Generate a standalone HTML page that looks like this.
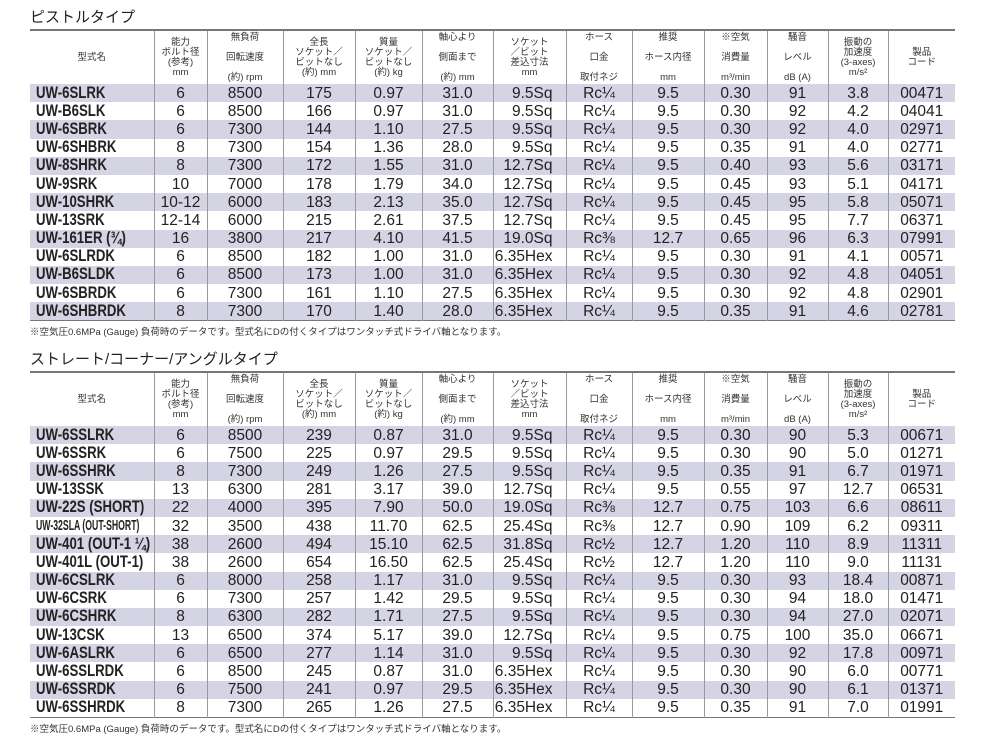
<!DOCTYPE html>
<html><head><meta charset="utf-8">
<style>
body{margin:0;width:989px;height:736px;background:#fff;position:relative;overflow:hidden;font-family:"Liberation Sans","Noto Sans CJK JP",sans-serif;color:#222}
.t{position:absolute;left:30px;font-size:15px;color:#222}
.n{position:absolute;left:30px;font-size:9.5px;color:#333;white-space:nowrap}
table{position:absolute;left:30px;border-collapse:collapse;table-layout:fixed;width:925px}
td,th{padding:0;border-left:1px solid #999;text-align:center;white-space:nowrap}
td:first-child,th:first-child{border-left:none}
th{font-weight:normal;font-size:9.5px;line-height:10px;color:#333;height:53px;vertical-align:middle}
thead tr{border-top:2px solid #777}
tbody tr{height:18.2px}
tbody td{height:18.2px;font-size:15.5px;line-height:17px;overflow:hidden;vertical-align:middle}
tbody td:first-child{text-align:left;padding-left:6px;font-weight:bold}
tbody td:first-child span{display:inline-block;transform:scaleX(0.8);transform-origin:left center;font-size:16.5px;line-height:17px;vertical-align:top}
tbody td:nth-child(7){text-align:right;padding-right:13px}
tbody tr:nth-child(odd){background:#d5d4e4}
tbody tr:last-child{border-bottom:1px solid #777}
</style></head><body>
<div class="t" style="top:6px">ピストルタイプ</div>
<table style="top:29px">
<colgroup><col style="width:124px"><col style="width:53px"><col style="width:76px"><col style="width:72px"><col style="width:67px"><col style="width:71px"><col style="width:73px"><col style="width:66px"><col style="width:72px"><col style="width:63px"><col style="width:61px"><col style="width:60px"><col style="width:67px"></colgroup>
<thead><tr><th>型式名</th><th>能力<br>ボルト径<br>(参考)<br>mm</th><th>無負荷<br><br>回転速度<br><br>(約) rpm</th><th>全長<br>ソケット／<br>ビットなし<br>(約) mm</th><th>質量<br>ソケット／<br>ビットなし<br>(約) kg</th><th>軸心より<br><br>側面まで<br><br>(約) mm</th><th>ソケット<br>／ビット<br>差込寸法<br>mm</th><th>ホース<br><br>口金<br><br>取付ネジ</th><th>推奨<br><br>ホース内径<br><br>mm</th><th>※空気<br><br>消費量<br><br>m³/min</th><th>騒音<br><br>レベル<br><br>dB (A)</th><th>振動の<br>加速度<br>(3-axes)<br>m/s²</th><th>製品<br>コード</th></tr></thead>
<tbody>
<tr><td><span>UW-6SLRK</span></td><td>6</td><td>8500</td><td>175</td><td>0.97</td><td>31.0</td><td>9.5Sq</td><td>Rc¼</td><td>9.5</td><td>0.30</td><td>91</td><td>3.8</td><td>00471</td></tr>
<tr><td><span>UW-B6SLK</span></td><td>6</td><td>8500</td><td>166</td><td>0.97</td><td>31.0</td><td>9.5Sq</td><td>Rc¼</td><td>9.5</td><td>0.30</td><td>92</td><td>4.2</td><td>04041</td></tr>
<tr><td><span>UW-6SBRK</span></td><td>6</td><td>7300</td><td>144</td><td>1.10</td><td>27.5</td><td>9.5Sq</td><td>Rc¼</td><td>9.5</td><td>0.30</td><td>92</td><td>4.0</td><td>02971</td></tr>
<tr><td><span>UW-6SHBRK</span></td><td>8</td><td>7300</td><td>154</td><td>1.36</td><td>28.0</td><td>9.5Sq</td><td>Rc¼</td><td>9.5</td><td>0.35</td><td>91</td><td>4.0</td><td>02771</td></tr>
<tr><td><span>UW-8SHRK</span></td><td>8</td><td>7300</td><td>172</td><td>1.55</td><td>31.0</td><td>12.7Sq</td><td>Rc¼</td><td>9.5</td><td>0.40</td><td>93</td><td>5.6</td><td>03171</td></tr>
<tr><td><span>UW-9SRK</span></td><td>10</td><td>7000</td><td>178</td><td>1.79</td><td>34.0</td><td>12.7Sq</td><td>Rc¼</td><td>9.5</td><td>0.45</td><td>93</td><td>5.1</td><td>04171</td></tr>
<tr><td><span>UW-10SHRK</span></td><td>10-12</td><td>6000</td><td>183</td><td>2.13</td><td>35.0</td><td>12.7Sq</td><td>Rc¼</td><td>9.5</td><td>0.45</td><td>95</td><td>5.8</td><td>05071</td></tr>
<tr><td><span>UW-13SRK</span></td><td>12-14</td><td>6000</td><td>215</td><td>2.61</td><td>37.5</td><td>12.7Sq</td><td>Rc¼</td><td>9.5</td><td>0.45</td><td>95</td><td>7.7</td><td>06371</td></tr>
<tr><td><span>UW-161ER (¾)</span></td><td>16</td><td>3800</td><td>217</td><td>4.10</td><td>41.5</td><td>19.0Sq</td><td>Rc⅜</td><td>12.7</td><td>0.65</td><td>96</td><td>6.3</td><td>07991</td></tr>
<tr><td><span>UW-6SLRDK</span></td><td>6</td><td>8500</td><td>182</td><td>1.00</td><td>31.0</td><td>6.35Hex</td><td>Rc¼</td><td>9.5</td><td>0.30</td><td>91</td><td>4.1</td><td>00571</td></tr>
<tr><td><span>UW-B6SLDK</span></td><td>6</td><td>8500</td><td>173</td><td>1.00</td><td>31.0</td><td>6.35Hex</td><td>Rc¼</td><td>9.5</td><td>0.30</td><td>92</td><td>4.8</td><td>04051</td></tr>
<tr><td><span>UW-6SBRDK</span></td><td>6</td><td>7300</td><td>161</td><td>1.10</td><td>27.5</td><td>6.35Hex</td><td>Rc¼</td><td>9.5</td><td>0.30</td><td>92</td><td>4.8</td><td>02901</td></tr>
<tr><td><span>UW-6SHBRDK</span></td><td>8</td><td>7300</td><td>170</td><td>1.40</td><td>28.0</td><td>6.35Hex</td><td>Rc¼</td><td>9.5</td><td>0.35</td><td>91</td><td>4.6</td><td>02781</td></tr>
</tbody></table>
<div class="n" style="top:324px">※空気圧0.6MPa (Gauge) 負荷時のデータです。型式名にDの付くタイプはワンタッチ式ドライバ軸となります。</div>
<div class="t" style="top:348px">ストレート/コーナー/アングルタイプ</div>
<table style="top:371px">
<colgroup><col style="width:124px"><col style="width:53px"><col style="width:76px"><col style="width:72px"><col style="width:67px"><col style="width:71px"><col style="width:73px"><col style="width:66px"><col style="width:72px"><col style="width:63px"><col style="width:61px"><col style="width:60px"><col style="width:67px"></colgroup>
<thead><tr><th>型式名</th><th>能力<br>ボルト径<br>(参考)<br>mm</th><th>無負荷<br><br>回転速度<br><br>(約) rpm</th><th>全長<br>ソケット／<br>ビットなし<br>(約) mm</th><th>質量<br>ソケット／<br>ビットなし<br>(約) kg</th><th>軸心より<br><br>側面まで<br><br>(約) mm</th><th>ソケット<br>／ビット<br>差込寸法<br>mm</th><th>ホース<br><br>口金<br><br>取付ネジ</th><th>推奨<br><br>ホース内径<br><br>mm</th><th>※空気<br><br>消費量<br><br>m³/min</th><th>騒音<br><br>レベル<br><br>dB (A)</th><th>振動の<br>加速度<br>(3-axes)<br>m/s²</th><th>製品<br>コード</th></tr></thead>
<tbody>
<tr><td><span>UW-6SSLRK</span></td><td>6</td><td>8500</td><td>239</td><td>0.87</td><td>31.0</td><td>9.5Sq</td><td>Rc¼</td><td>9.5</td><td>0.30</td><td>90</td><td>5.3</td><td>00671</td></tr>
<tr><td><span>UW-6SSRK</span></td><td>6</td><td>7500</td><td>225</td><td>0.97</td><td>29.5</td><td>9.5Sq</td><td>Rc¼</td><td>9.5</td><td>0.30</td><td>90</td><td>5.0</td><td>01271</td></tr>
<tr><td><span>UW-6SSHRK</span></td><td>8</td><td>7300</td><td>249</td><td>1.26</td><td>27.5</td><td>9.5Sq</td><td>Rc¼</td><td>9.5</td><td>0.35</td><td>91</td><td>6.7</td><td>01971</td></tr>
<tr><td><span>UW-13SSK</span></td><td>13</td><td>6300</td><td>281</td><td>3.17</td><td>39.0</td><td>12.7Sq</td><td>Rc¼</td><td>9.5</td><td>0.55</td><td>97</td><td>12.7</td><td>06531</td></tr>
<tr><td><span>UW-22S (SHORT)</span></td><td>22</td><td>4000</td><td>395</td><td>7.90</td><td>50.0</td><td>19.0Sq</td><td>Rc⅜</td><td>12.7</td><td>0.75</td><td>103</td><td>6.6</td><td>08611</td></tr>
<tr><td><span style="font-size:14.5px;transform:scaleX(0.6)">UW-32SLA (OUT-SHORT)</span></td><td>32</td><td>3500</td><td>438</td><td>11.70</td><td>62.5</td><td>25.4Sq</td><td>Rc⅜</td><td>12.7</td><td>0.90</td><td>109</td><td>6.2</td><td>09311</td></tr>
<tr><td><span>UW-401 (OUT-1 ¼)</span></td><td>38</td><td>2600</td><td>494</td><td>15.10</td><td>62.5</td><td>31.8Sq</td><td>Rc½</td><td>12.7</td><td>1.20</td><td>110</td><td>8.9</td><td>11311</td></tr>
<tr><td><span>UW-401L (OUT-1)</span></td><td>38</td><td>2600</td><td>654</td><td>16.50</td><td>62.5</td><td>25.4Sq</td><td>Rc½</td><td>12.7</td><td>1.20</td><td>110</td><td>9.0</td><td>11131</td></tr>
<tr><td><span>UW-6CSLRK</span></td><td>6</td><td>8000</td><td>258</td><td>1.17</td><td>31.0</td><td>9.5Sq</td><td>Rc¼</td><td>9.5</td><td>0.30</td><td>93</td><td>18.4</td><td>00871</td></tr>
<tr><td><span>UW-6CSRK</span></td><td>6</td><td>7300</td><td>257</td><td>1.42</td><td>29.5</td><td>9.5Sq</td><td>Rc¼</td><td>9.5</td><td>0.30</td><td>94</td><td>18.0</td><td>01471</td></tr>
<tr><td><span>UW-6CSHRK</span></td><td>8</td><td>6300</td><td>282</td><td>1.71</td><td>27.5</td><td>9.5Sq</td><td>Rc¼</td><td>9.5</td><td>0.30</td><td>94</td><td>27.0</td><td>02071</td></tr>
<tr><td><span>UW-13CSK</span></td><td>13</td><td>6500</td><td>374</td><td>5.17</td><td>39.0</td><td>12.7Sq</td><td>Rc¼</td><td>9.5</td><td>0.75</td><td>100</td><td>35.0</td><td>06671</td></tr>
<tr><td><span>UW-6ASLRK</span></td><td>6</td><td>6500</td><td>277</td><td>1.14</td><td>31.0</td><td>9.5Sq</td><td>Rc¼</td><td>9.5</td><td>0.30</td><td>92</td><td>17.8</td><td>00971</td></tr>
<tr><td><span>UW-6SSLRDK</span></td><td>6</td><td>8500</td><td>245</td><td>0.87</td><td>31.0</td><td>6.35Hex</td><td>Rc¼</td><td>9.5</td><td>0.30</td><td>90</td><td>6.0</td><td>00771</td></tr>
<tr><td><span>UW-6SSRDK</span></td><td>6</td><td>7500</td><td>241</td><td>0.97</td><td>29.5</td><td>6.35Hex</td><td>Rc¼</td><td>9.5</td><td>0.30</td><td>90</td><td>6.1</td><td>01371</td></tr>
<tr><td><span>UW-6SSHRDK</span></td><td>8</td><td>7300</td><td>265</td><td>1.26</td><td>27.5</td><td>6.35Hex</td><td>Rc¼</td><td>9.5</td><td>0.35</td><td>91</td><td>7.0</td><td>01991</td></tr>
</tbody></table>
<div class="n" style="top:721px">※空気圧0.6MPa (Gauge) 負荷時のデータです。型式名にDの付くタイプはワンタッチ式ドライバ軸となります。</div>
</body></html>
